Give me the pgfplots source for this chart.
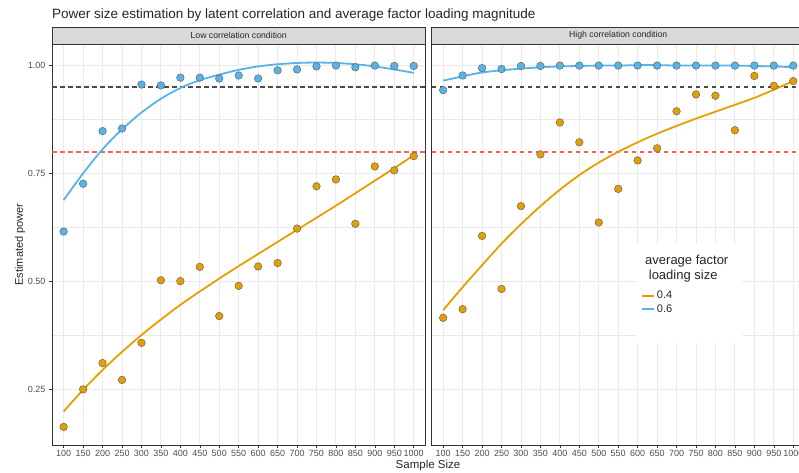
\documentclass[border=0pt]{standalone}
\usepackage{pgfplots}
\usepackage{pgfplotstable}
\pgfplotsset{compat=1.18}
\usepackage{fontspec}
\setmainfont{Liberation Sans}
\definecolor{cfour}{HTML}{E69F00}
\definecolor{csix}{HTML}{56B4E9}
\definecolor{gridc}{HTML}{EBEBEB}
\definecolor{txtc}{HTML}{4D4D4D}
\definecolor{stripc}{HTML}{D9D9D9}
\definecolor{framec}{HTML}{333333}
\definecolor{hlc}{HTML}{4A4A4A}
\definecolor{redref}{RGB}{248,96,96}

% factor loading 0.4: n, low points, low fit, high points, high fit
\pgfplotstableread{
n lp lf hp hf
100 0.162 0.198 0.415 0.433
150 0.249 0.248 0.435 0.486
200 0.310 0.294 0.605 0.537
250 0.271 0.336 0.482 0.587
300 0.357 0.375 0.674 0.632
350 0.502 0.411 0.794 0.674
400 0.500 0.445 0.868 0.712
450 0.533 0.476 0.822 0.746
500 0.419 0.506 0.636 0.775
550 0.489 0.535 0.714 0.800
600 0.534 0.563 0.780 0.822
650 0.542 0.591 0.808 0.842
700 0.622 0.619 0.894 0.860
750 0.720 0.647 0.933 0.877
800 0.736 0.675 0.930 0.893
850 0.633 0.704 0.850 0.909
900 0.766 0.733 0.976 0.925
950 0.757 0.762 0.953 0.944
1000 0.790 0.792 0.964 0.964
}\tabfour

% factor loading 0.6
\pgfplotstableread{
n lp lf hp hf
100 0.615 0.688 0.943 0.965
150 0.726 0.750 0.977 0.975
200 0.848 0.806 0.994 0.984
250 0.854 0.852 0.992 0.989
300 0.956 0.891 0.999 0.993
350 0.954 0.923 0.999 0.996
400 0.972 0.948 1.000 0.998
450 0.972 0.966 1.000 0.999
500 0.970 0.979 1.000 1.000
550 0.977 0.990 1.000 1.000
600 0.970 0.998 1.000 1.001
650 0.989 1.003 1.000 1.001
700 0.991 1.006 1.000 1.000
750 0.998 1.007 1.000 1.000
800 1.000 1.006 1.000 1.000
850 0.996 1.003 1.000 1.000
900 1.000 0.998 1.000 0.999
950 0.999 0.991 1.000 0.998
1000 0.999 0.983 1.000 0.996
}\tabsix

% reference lines
\pgfplotstableread{
x y
70 0.95
1030 0.95
}\tabninetyfive
\pgfplotstableread{
x y
70 0.80
1030 0.80
}\tabeighty

\pgfplotsset{
  panel/.style={
    scale only axis,
    height=401pt,
    xmin=70, ymin=0.12, ymax=1.05,
    xtick={100,150,...,1000},
    ytick={0.25,0.5,0.75,1},
    minor ytick={0.375,0.625,0.875},
    grid=both,
    major grid style={gridc, line width=0.9pt},
    minor grid style={gridc, line width=0.45pt},
    tick align=outside,
    major tick length=3pt,
    minor tick length=0pt,
    tick style={framec, line width=0.6pt},
    xtick pos=bottom, ytick pos=left,
    axis line style={framec, line width=0.7pt},
    ticklabel style={font=\fontsize{9}{10}\selectfont, text=txtc},
    xticklabel style={inner sep=2pt},
    /pgf/number format/assume math mode=true,
    /pgf/number format/1000 sep={},
    clip=false,
  },
  pts/.style={only marks, mark=*, mark size=3.8pt, mark options={fill=#1, draw=black!60, line width=0.5pt}},
  fit/.style={color=#1, line width=1.8pt, no marks},
  refblack/.style={draw=hlc, line width=1.3pt, dash pattern=on 4.5pt off 3.5pt, mark=none},
  refred/.style={draw=redref, line width=1.6pt, dash pattern=on 4.5pt off 3.5pt, mark=none},
}

\begin{document}
\begin{tikzpicture}
% ---------- left panel ----------
\begin{axis}[panel, at={(52pt,27pt)}, anchor=south west, width=373.4pt, xmax=1030,
  yticklabels={0.25,0.50,0.75,1.00}]
  \addplot[refblack] table[x=x,y=y] {\tabninetyfive};
  \addplot[refred] table[x=x,y=y] {\tabeighty};
  \addplot[pts=cfour] table[x=n,y=lp] {\tabfour};
  \addplot[pts=csix] table[x=n,y=lp] {\tabsix};
  \addplot[fit=cfour, smooth] table[x=n,y=lf] {\tabfour};
  \addplot[fit=csix, smooth] table[x=n,y=lf] {\tabsix};
  \draw[framec, fill=stripc, line width=0.6pt] (rel axis cs:0,1) rectangle (rel axis cs:1,1.0424);
  \node[font=\fontsize{8.7}{10}\selectfont, text=black!85] at (rel axis cs:0.5,1.0212) {Low correlation condition};
\end{axis}
% ---------- right panel ----------
\begin{axis}[panel, at={(431.5pt,27pt)}, anchor=south west, width=367.5pt, xmax=1014.8,
  yticklabels={}, y tick style={draw=none}, axis line style={draw=none},
  legend style={at={(0.570,0.389)}, anchor=north west, draw=none, fill=none,
    font=\fontsize{11}{12}\selectfont, inner sep=0pt, row sep=0pt,
    nodes={inner sep=2pt, text=black!85}},
  legend cell align=left,
  legend image code/.code={\draw[#1, line width=1.8pt] (0pt,0pt) -- (12pt,0pt);}]
  \addplot[refblack, forget plot] table[x=x,y=y] {\tabninetyfive};
  \addplot[refred, forget plot] table[x=x,y=y] {\tabeighty};
  \addplot[pts=cfour, forget plot] table[x=n,y=hp] {\tabfour};
  \addplot[pts=csix, forget plot] table[x=n,y=hp] {\tabsix};
  \addplot[fit=cfour, smooth] table[x=n,y=hf] {\tabfour};
  \addlegendentry{0.4}
  \addplot[fit=csix, smooth] table[x=n,y=hf] {\tabsix};
  \addlegendentry{0.6}
  \fill[white] (rel axis cs:0.559,0.254) rectangle (rel axis cs:0.845,0.501);
  \node[anchor=north west, align=left, inner sep=0pt, font=\fontsize{13}{15}\selectfont, text=black!85]
    at (rel axis cs:0.581,0.473) {average factor\\\hspace{0.28em}loading size};
  \draw[framec, line width=0.7pt] (rel axis cs:0,1) -- (rel axis cs:0,0) -- (rel axis cs:1,0);
  \draw[framec, fill=stripc, line width=0.6pt] (rel axis cs:0,1) rectangle (rel axis cs:1.02,1.0424);
  \node[font=\fontsize{8.7}{10}\selectfont, text=black!85] at (rel axis cs:0.508,1.0212) {High correlation condition};
\end{axis}
% ---------- titles ----------
\node[anchor=west, inner sep=0pt, font=\fontsize{13.5}{16}\selectfont, text=black!85] at (52pt,457pt)
  {Power size estimation by latent correlation and average factor loading magnitude};
\node[rotate=90, font=\fontsize{11}{13}\selectfont, text=black!85] at (20pt,227.5pt) {Estimated power};
\node[font=\fontsize{11.5}{13}\selectfont, text=black!85] at (428pt,6pt) {Sample Size};
\pgfresetboundingbox
\useasboundingbox (0,0) rectangle (799pt,472pt);
\end{tikzpicture}
\end{document}
